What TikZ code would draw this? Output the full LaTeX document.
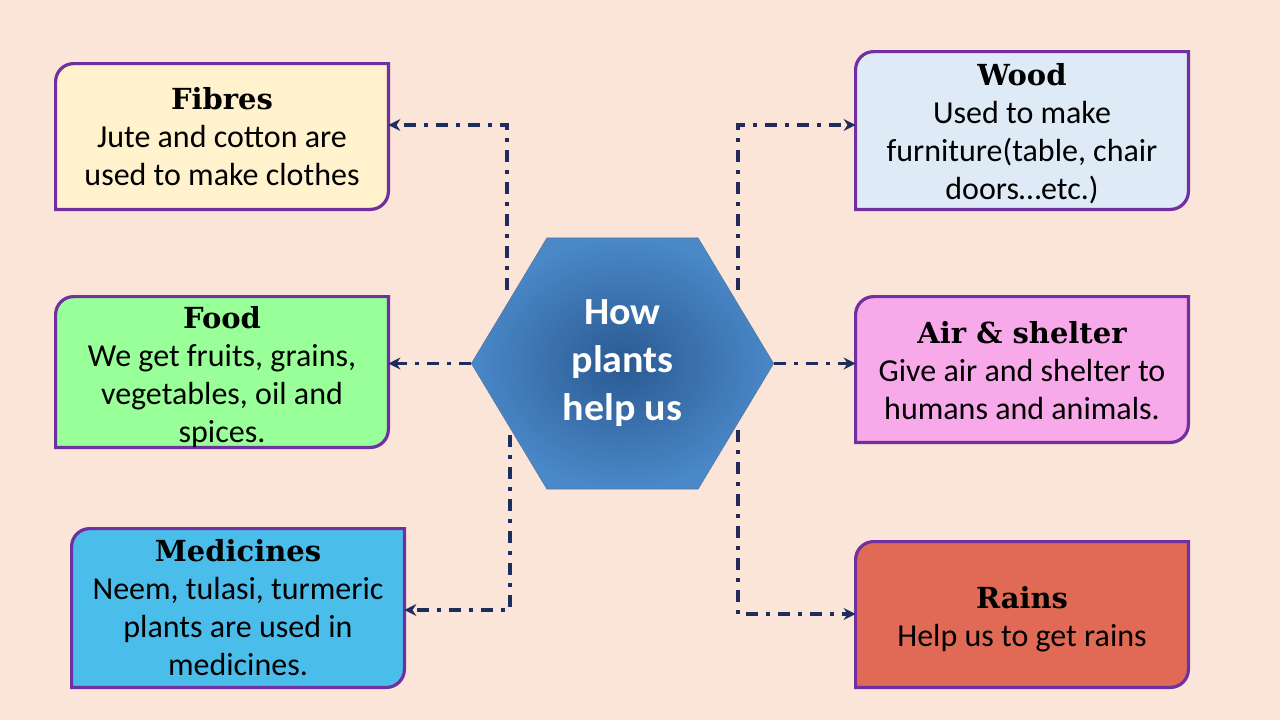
\documentclass[tikz,border=0pt]{standalone}
\usepackage{fontspec}
\setmainfont{Carlito}
\newfontfamily\headfont{DejaVu Serif}
\usetikzlibrary{arrows.meta,shapes.geometric}
\definecolor{bgpeach}{HTML}{FBE5D9}
\definecolor{boxline}{HTML}{7030A0}
\definecolor{linknavy}{HTML}{1F2D5C}
\definecolor{hexdark}{HTML}{2A5A92}
\definecolor{hexlight}{HTML}{4A88C8}
\definecolor{fibfill}{HTML}{FFF2CC}
\definecolor{foodfill}{HTML}{99FF99}
\definecolor{medfill}{HTML}{4BBDEB}
\definecolor{woodfill}{HTML}{DEEBF7}
\definecolor{airfill}{HTML}{F8A9E9}
\definecolor{rainfill}{HTML}{E06A55}
\tikzset{
	leaf/.style={rectangle,align=center,font=\fontsize{16}{19}\selectfont,inner sep=0pt},
	link/.style={linknavy,line width=1.6pt,dash pattern=on 6pt off 4pt on 2pt off 4pt,-{Stealth[length=6pt,width=6pt]}}
}
\newcommand{\head}[1]{{\headfont\bfseries\fontsize{14.5}{19}\selectfont #1}}
\newcommand{\leafframe}[2]{%
	\draw[boxline,line width=1.6pt,fill=#2] (#1.north east) -- ([yshift=9pt]#1.south east)
		arc[start angle=0,end angle=-90,radius=9pt] -- (#1.south west) -- ([yshift=-9pt]#1.north west)
		arc[start angle=180,end angle=90,radius=9pt] -- cycle;}
\begin{document}
\begin{tikzpicture}[x=0.5pt,y=-0.5pt]
	\fill[bgpeach] (0,0) rectangle (1280,720);
	\useasboundingbox (0,0) rectangle (1280,720);
	%
	\node[leaf,minimum width=166pt,minimum height=72.5pt] (fib) at (222,136.5) {};
	\leafframe{fib}{fibfill}
	\node[leaf] at (fib) {\head{Fibres}\\Jute and cotton are\\used to make clothes};
	\node[leaf,minimum width=166pt,minimum height=75pt] (food) at (222,372) {};
	\leafframe{food}{foodfill}
	\node[leaf] at ([yshift=-2.5pt]food) {\head{Food}\\We get fruits, grains,\\vegetables, oil and\\spices.};
	\node[leaf,minimum width=166pt,minimum height=79pt] (med) at (238,608) {};
	\leafframe{med}{medfill}
	\node[leaf] at (med) {\head{Medicines}\\Neem, tulasi, turmeric\\plants are used in\\medicines.};
	\node[leaf,minimum width=166pt,minimum height=78.5pt] (wood) at (1022,130.5) {};
	\leafframe{wood}{woodfill}
	\node[leaf] at ([yshift=-1.5pt]wood) {\head{Wood}\\Used to make\\furniture(table, chair\\doors\dots etc.)};
	\node[leaf,minimum width=166pt,minimum height=72.5pt] (air) at (1022,369.5) {};
	\leafframe{air}{airfill}
	\node[leaf] at ([yshift=-0.5pt]air) {\head{Air \& shelter}\\Give air and shelter to\\humans and animals.};
	\node[leaf,minimum width=166pt,minimum height=72.5pt] (rain) at (1022,614.5) {};
	\leafframe{rain}{rainfill}
	\node[leaf] at ([yshift=-2.5pt]rain) {\head{Rains}\\Help us to get rains};
	%
	\node[regular polygon,regular polygon sides=6,minimum size=151pt,inner sep=0pt,draw=hexdark!80,yscale=0.96,
		inner color=hexdark,outer color=hexlight,text=white,align=center,
		font=\bfseries\fontsize{20}{25}\selectfont] (hub) at (622.5,363.5) {How\\plants\\help us};
	%
	\coordinate (fibT) at (507,290);
	\coordinate (woodT) at (738,290);
	\coordinate (medT) at (510,435);
	\coordinate (rainT) at (738,430);
	\draw[link] (fibT) |- (fib.east |- 0,125);
	\draw[link] (woodT) |- (wood.west |- 0,125);
	\draw[link] (hub.west) -- (food.east |- hub.west);
	\draw[link] (hub.east) -- (air.west |- hub.east);
	\draw[link] (medT) |- (med.east |- 0,610);
	\draw[link] (rainT) |- (rain.west |- 0,614);
\end{tikzpicture}
\end{document}
